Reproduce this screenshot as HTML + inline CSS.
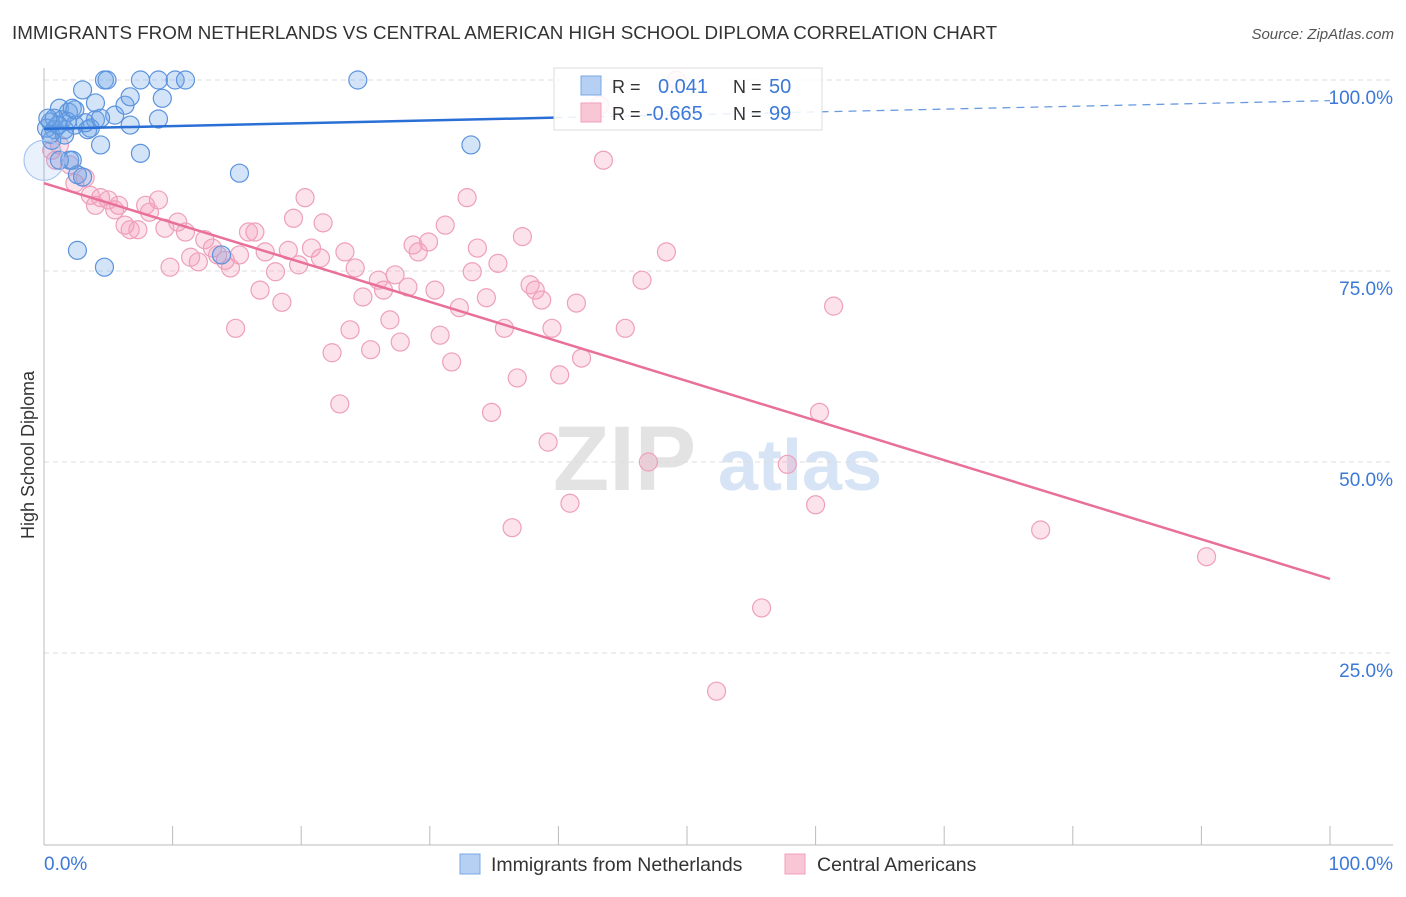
<!DOCTYPE html>
<html><head><meta charset="utf-8"><style>
body{margin:0;background:#fff;font-family:"Liberation Sans",sans-serif;}
svg text{font-family:"Liberation Sans",sans-serif;}
</style></head><body>
<svg id="chart" width="1406" height="892" viewBox="0 0 1406 892" xmlns="http://www.w3.org/2000/svg">
<text x="12" y="39" font-size="18.8" fill="#333">IMMIGRANTS FROM NETHERLANDS VS CENTRAL AMERICAN HIGH SCHOOL DIPLOMA CORRELATION CHART</text>
<text x="1394" y="39" font-size="15" fill="#555" text-anchor="end" font-style="italic">Source: ZipAtlas.com</text>
<g>
<text x="553" y="490" font-size="92" font-family="Liberation Serif" fill="#e3e3e3" font-weight="bold">ZIP</text>
<text x="718" y="490" font-size="72" fill="#d6e4f5" font-weight="bold">atlas</text>
</g>
<g id="grid"></g>
<g id="axes"></g>
<text transform="translate(34,455) rotate(-90)" font-size="18" fill="#333" text-anchor="middle">High School Diploma</text>
<g id="pts"></g>
<g id="trend"></g>
<g>
<rect x="554" y="68" width="268" height="62" fill="#fff" fill-opacity="0.85" stroke="#ddd"/>
<rect x="581" y="76" width="20" height="19" fill="#b5d0f3" stroke="#7aa7e6"/>
<rect x="581" y="103" width="20" height="19" fill="#f9c6d6" stroke="#efa0ba"/>
<text x="612" y="93" font-size="18" fill="#333">R =</text>
<text x="658" y="93" font-size="20" fill="#3b78d8">0.041</text>
<text x="733" y="93" font-size="18" fill="#333">N =</text>
<text x="769" y="93" font-size="20" fill="#3b78d8">50</text>
<text x="612" y="120" font-size="18" fill="#333">R =</text>
<text x="646" y="120" font-size="20" fill="#3b78d8">-0.665</text>
<text x="733" y="120" font-size="18" fill="#333">N =</text>
<text x="769" y="120" font-size="20" fill="#3b78d8">99</text>
</g>
<g>
<rect x="460" y="854" width="20" height="20" fill="#b5d0f3" stroke="#7aa7e6"/>
<text x="491" y="871" font-size="19.5" fill="#333">Immigrants from Netherlands</text>
<rect x="785" y="854" width="20" height="20" fill="#f9c6d6" stroke="#efa0ba"/>
<text x="817" y="871" font-size="19.5" fill="#333">Central Americans</text>
</g>
</svg>
<script>
const blueX=[0.5,0.8,0.6,1.2,1.4,1.6,1.9,2.0,2.2,2.4,2.6,3.0,3.4,4.0,4.0,4.4,4.7,4.9,5.5,6.3,6.7,6.7,7.5,7.5,8.9,8.9,9.2,10.2,11.0,13.8,15.2,24.4,33.2,2.6,4.7,1.2,3.0,0.2,0.5,3.6,3.2,1.8,0.8,1.6,4.4,1.1,2.2,0.3,2.4,0];
const blueY=[94.5,93.5,92.1,96.3,94.8,93.5,95.8,89.5,96.3,94.1,87.6,98.7,93.5,97.0,94.8,91.5,100,100,95.4,96.7,97.8,94.1,90.4,100,100,94.9,97.6,100,100,77.1,87.8,100,91.5,77.7,75.5,89.5,87.3,93.7,92.9,93.7,94.4,94.6,95.0,92.8,95.0,94.1,89.5,95.0,96.1,89.5];
const pinkX=[0.6,1.2,0.9,2.0,2.4,3.2,3.6,4.0,4.4,5.0,5.5,5.8,6.3,6.7,7.3,7.9,8.2,8.9,9.4,9.8,10.4,11.0,11.4,12.0,12.5,13.1,13.5,14.1,14.5,14.9,15.2,15.9,16.4,16.8,17.2,18.0,18.5,19.0,19.4,19.8,20.3,20.8,21.5,21.7,22.4,23.0,23.4,23.8,24.2,24.8,25.4,26.0,26.4,26.9,27.3,27.7,28.3,28.7,29.1,29.9,30.4,30.8,31.2,31.7,32.3,32.9,33.3,33.7,34.4,34.8,35.3,35.8,36.4,36.8,37.2,37.8,38.2,38.7,39.2,39.5,40.1,40.9,41.4,41.8,43.2,43.5,45.2,46.5,47.0,48.4,49.2,52.3,55.8,57.8,60.0,60.3,61.4,77.5,90.4];
const pinkY=[90.8,91.5,89.5,88.9,86.5,87.2,84.9,83.6,84.6,84.3,83.0,83.6,81.0,80.4,80.4,83.6,82.7,84.3,80.6,75.5,81.4,80.1,76.8,76.2,79.1,78.0,77.1,76.4,75.4,67.5,77.1,80.1,80.1,72.5,77.5,74.9,70.9,77.7,81.9,75.8,84.6,78.0,76.7,81.3,64.3,57.6,77.5,67.3,75.4,71.6,64.7,73.8,72.5,68.6,74.5,65.7,72.9,78.4,77.5,78.8,72.5,66.6,81.0,63.1,70.2,84.6,74.9,78.0,71.5,56.5,76.0,67.5,41.4,61.0,79.5,73.2,72.5,71.2,52.6,67.5,61.4,44.6,70.8,63.6,96.7,89.5,67.5,73.8,50.0,77.5,100,20.0,30.9,49.7,44.4,56.5,70.4,41.1,37.6];
const blueTrend=[93.6,97.3];
const pinkTrend=[86.5,34.7];
const yTicks=[25,50,75,100];
const yTickLabels=["25.0%","50.0%","75.0%","100.0%"];
const xTicks=[0,10,20,30,40,50,60,70,80,90,100];
const xTickLabels=["0.0%","100.0%"];
const NS="http://www.w3.org/2000/svg";
const X0=44,X1=1330,Y0=844,Y1=80;
function sx(v){return X0+(X1-X0)*v/100;}
function sy(v){return Y0-(Y0-Y1)*v/100;}
function mk(tag,attrs,parent){const e=document.createElementNS(NS,tag);for(const k in attrs)e.setAttribute(k,attrs[k]);parent.appendChild(e);return e;}
const grid=document.getElementById('grid'),axes=document.getElementById('axes'),pts=document.getElementById('pts'),trend=document.getElementById('trend');
yTicks.forEach((t,i)=>{
 const l=mk('line',{x1:X0,x2:1393,y1:sy(t),y2:sy(t),stroke:'#ddd','stroke-dasharray':'5,4'},grid);
 
 
 const tx=mk('text',{x:1393,y:sy(t)+24,'font-size':19,fill:'#3b78d8','text-anchor':'end'},axes);
 tx.textContent=yTickLabels[i];
 
 
});
const ax=mk('line',{x1:X0,x2:1393,y1:845,y2:845,stroke:'#bbb'},axes);


const ay=mk('line',{x1:X0,x2:X0,y1:68,y2:845,stroke:'#bbb'},axes);


xTicks.forEach(t=>{
 const l=mk('line',{x1:sx(t),x2:sx(t),y1:826,y2:845,stroke:'#bbb'},axes);
 
 
});
const xl0=mk('text',{x:44,y:870,'font-size':19,fill:'#3b78d8'},axes);xl0.textContent=xTickLabels[0];


const xl1=mk('text',{x:1393,y:870,'font-size':19,fill:'#3b78d8','text-anchor':'end'},axes);xl1.textContent=xTickLabels[1];


pinkX.forEach((v,i)=>{
 const c=mk('circle',{cx:sx(v),cy:sy(pinkY[i]),r:9,fill:'rgba(244,160,188,0.3)',stroke:'#eea0b9','stroke-width':1.2},pts);
 
 
});
blueX.forEach((v,i)=>{
 const big=i===blueX.length-1;
 const c=mk('circle',{cx:sx(v),cy:sy(blueY[i]),r:big?20:9,fill:big?'rgba(110,165,232,0.15)':'rgba(110,165,232,0.3)',stroke:big?'#a9c6ee':'#5b93dd','stroke-width':1.2},pts);
 
 
});
const bMid=blueTrend[0]+(blueTrend[1]-blueTrend[0])*0.397;
const b1=mk('line',{x1:sx(0),y1:sy(blueTrend[0]),x2:sx(39.7),y2:sy(bMid),stroke:'#2a6fd6','stroke-width':2.5},trend);


const b2=mk('line',{x1:sx(39.7),y1:sy(bMid),x2:sx(100),y2:sy(blueTrend[1]),stroke:'#6a9be0','stroke-width':1.3,'stroke-dasharray':'8,6'},trend);


const p1=mk('line',{x1:sx(0),y1:sy(pinkTrend[0]),x2:sx(100),y2:sy(pinkTrend[1]),stroke:'#e8709a','stroke-width':2.5},trend);


</script>
</body></html>
